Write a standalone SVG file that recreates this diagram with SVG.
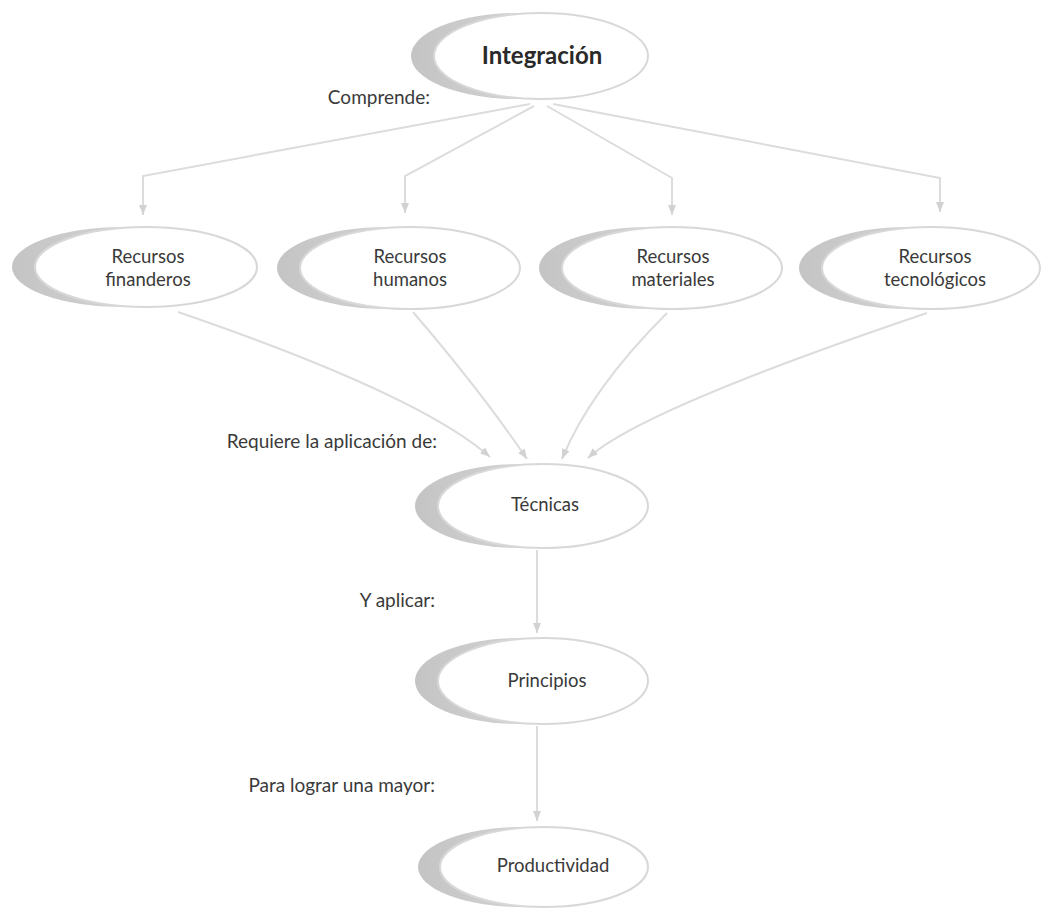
<svg xmlns="http://www.w3.org/2000/svg" width="1043" height="910" viewBox="0 0 1043 910">
<defs>
<linearGradient id="cres" x1="0" y1="0" x2="1" y2="0">
<stop offset="0" stop-color="#c4c4c4"/>
<stop offset="0.5" stop-color="#d2d2d2"/>
<stop offset="1" stop-color="#e6e6e6"/>
</linearGradient>
<marker id="arr" markerUnits="userSpaceOnUse" markerWidth="11" markerHeight="11" viewBox="0 0 11 11" refX="10" refY="5.5" orient="auto">
<path d="M0,1.5 L10,5.5 L0,9.5 Z" fill="#d2d2d2"/>
</marker>
<style>
.sh{fill:url(#cres);}
.el{fill:#ffffff;stroke:#d8d8d8;stroke-width:2;}
.t{font-family:"Lato","Liberation Sans",sans-serif;font-size:18.5px;fill:#3a3a3a;text-anchor:middle;}
.tb{font-family:"Lato","Liberation Sans",sans-serif;font-size:24px;font-weight:bold;fill:#2a2a2a;text-anchor:middle;}
.lb{font-family:"Lato","Liberation Sans",sans-serif;font-size:19px;fill:#3a3a3a;text-anchor:end;}
.c{fill:none;stroke:#dcdcdc;stroke-width:2;marker-end:url(#arr);}
</style>
</defs>
<rect width="1043" height="910" fill="#ffffff"/>

<g id="connectors">
<path class="c" d="M530,104 L143,176 L143,215"/>
<path class="c" d="M534,106 L405,176 L405,213"/>
<path class="c" d="M547,106 L672,178 L672,215"/>
<path class="c" d="M553,104 L940,178 L940,212"/>
<path class="c" d="M178,312 Q420,395 490,457"/>
<path class="c" d="M413,312 Q480,390 527,459"/>
<path class="c" d="M667,313 Q590,390 562,459"/>
<path class="c" d="M927,313 Q640,410 588,458"/>
<path class="c" d="M537,550 L537,633"/>
<path class="c" d="M537,726 L537,821"/>
</g>

<g id="labels">
<text class="lb" x="430" y="104">Comprende:</text>
<text class="lb" x="437" y="448">Requiere la aplicación de:</text>
<text class="lb" x="435" y="607">Y aplicar:</text>
<text class="lb" x="435" y="792">Para lograr una mayor:</text>
</g>

<g id="n-integracion">
<ellipse class="sh" cx="518" cy="56" rx="107" ry="43"/>
<ellipse class="el" cx="541" cy="56" rx="107" ry="43"/>
<text class="tb" x="542" y="64">Integración</text>
</g>

<g id="n-financieros">
<ellipse class="sh" cx="123" cy="267" rx="111" ry="40"/>
<ellipse class="el" cx="146" cy="267" rx="111" ry="40"/>
<text class="t" x="148" y="263">Recursos</text>
<text class="t" x="148" y="286">finanderos</text>
</g>

<g id="n-humanos">
<ellipse class="sh" cx="387" cy="268" rx="110" ry="41"/>
<ellipse class="el" cx="410" cy="268" rx="110" ry="41"/>
<text class="t" x="410" y="263">Recursos</text>
<text class="t" x="410" y="286">humanos</text>
</g>

<g id="n-materiales">
<ellipse class="sh" cx="649" cy="268" rx="110" ry="41"/>
<ellipse class="el" cx="672" cy="268" rx="110" ry="41"/>
<text class="t" x="673" y="263">Recursos</text>
<text class="t" x="673" y="286">materiales</text>
</g>

<g id="n-tecnologicos">
<ellipse class="sh" cx="908" cy="268" rx="109" ry="41"/>
<ellipse class="el" cx="931" cy="268" rx="109" ry="41"/>
<text class="t" x="935" y="263">Recursos</text>
<text class="t" x="935" y="286">tecnológicos</text>
</g>

<g id="n-tecnicas">
<ellipse class="sh" cx="520" cy="506" rx="105" ry="42"/>
<ellipse class="el" cx="543" cy="506" rx="105" ry="42"/>
<text class="t" x="545" y="511">Técnicas</text>
</g>

<g id="n-principios">
<ellipse class="sh" cx="520" cy="681" rx="105" ry="43"/>
<ellipse class="el" cx="543" cy="681" rx="105" ry="43"/>
<text class="t" x="547" y="687">Principios</text>
</g>

<g id="n-productividad">
<ellipse class="sh" cx="522" cy="867" rx="104" ry="40"/>
<ellipse class="el" cx="544" cy="867" rx="104" ry="40"/>
<text class="t" x="553" y="872">Productividad</text>
</g>
</svg>
